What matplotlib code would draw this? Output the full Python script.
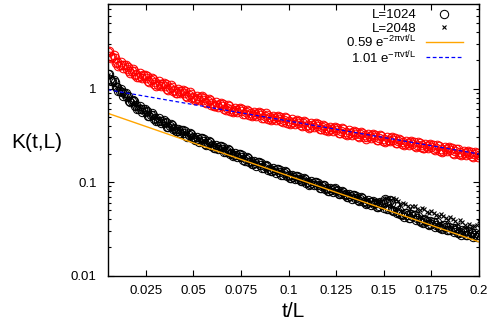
import numpy as np
import matplotlib
matplotlib.use("Agg")
import matplotlib.pyplot as plt
from matplotlib.ticker import FixedLocator, FixedFormatter, LogLocator, NullFormatter

plt.rcParams['font.family'] = ['Liberation Sans', 'DejaVu Sans']
plt.rcParams['mathtext.fontset'] = 'custom'
plt.rcParams['mathtext.rm'] = 'Liberation Sans'
plt.rcParams['mathtext.it'] = 'Liberation Sans'
plt.rcParams['mathtext.sf'] = 'Liberation Sans'

# ---------------- data ----------------
# red series (upper curve), sampled every 0.0025 from t/L = 0.005
red_vals = [2.46, 2.18, 1.93, 1.77, 1.63, 1.54, 1.44, 1.37, 1.29, 1.23,
            1.16, 1.12, 1.06, 1.02, 0.97, 0.935, 0.895, 0.86, 0.82, 0.795,
            0.76, 0.73, 0.70, 0.67, 0.645, 0.625, 0.60, 0.59, 0.57, 0.56,
            0.545, 0.535, 0.52, 0.51, 0.495, 0.487, 0.472, 0.465, 0.452, 0.443,
            0.43, 0.424, 0.412, 0.405, 0.394, 0.388, 0.378, 0.369, 0.360, 0.352,
            0.344, 0.337, 0.329, 0.323, 0.316, 0.309, 0.303, 0.297, 0.291, 0.285,
            0.280, 0.273, 0.268, 0.262, 0.258, 0.251, 0.247, 0.242, 0.236, 0.233,
            0.227, 0.223, 0.219, 0.214, 0.210, 0.206, 0.201, 0.198, 0.193]
# red series, samples at t/L = 0.00625, 0.00875, ...
red_vals_mid = [2.23, 2.13, 1.78, 1.78, 1.52, 1.55, 1.33, 1.38, 1.21, 1.25,
                1.08, 1.13, 1.00, 1.045, 0.905, 0.95, 0.84, 0.88, 0.767, 0.815,
                0.715, 0.75, 0.65, 0.69, 0.61, 0.643, 0.571, 0.603, 0.537, 0.58,
                0.518, 0.548, 0.489, 0.527, 0.471, 0.498, 0.445, 0.481, 0.429, 0.454,
                0.406, 0.439, 0.392, 0.415, 0.371, 0.402, 0.358, 0.379, 0.338, 0.365,
                0.327, 0.346, 0.310, 0.335, 0.300, 0.318, 0.285, 0.309, 0.276, 0.293,
                0.262, 0.284, 0.254, 0.270, 0.241, 0.261, 0.234, 0.249, 0.223, 0.241,
                0.216, 0.230, 0.206, 0.223, 0.200, 0.211, 0.190, 0.203]
# red series, samples at t/L = 0.005625, 0.006875, ... (every 0.00125)
red_vals_q = [2.53, 2.12, 2.27, 1.89, 1.76, 1.90, 1.67, 1.78, 1.71, 1.47,
              1.62, 1.39, 1.32, 1.46, 1.30, 1.40, 1.35, 1.17, 1.295, 1.12,
              1.07, 1.19, 1.06, 1.15, 1.11, 0.97, 1.08, 0.933, 0.894, 0.991,
              0.888, 0.968, 0.939, 0.817, 0.91, 0.789, 0.757, 0.841, 0.755, 0.823,
              0.798, 0.693, 0.773, 0.672, 0.644, 0.711, 0.637, 0.697, 0.678, 0.592,
              0.662, 0.576, 0.556, 0.622, 0.562, 0.615, 0.602, 0.529, 0.595, 0.522,
              0.505, 0.564, 0.51, 0.561, 0.549, 0.482, 0.541, 0.474, 0.458, 0.513,
              0.464, 0.509, 0.498, 0.439, 0.494, 0.432, 0.418, 0.467, 0.422, 0.463,
              0.454, 0.40, 0.45, 0.394, 0.381, 0.427, 0.386, 0.425, 0.416, 0.366,
              0.412, 0.361, 0.35, 0.39, 0.352, 0.388, 0.379, 0.333, 0.375, 0.329,
              0.318, 0.356, 0.322, 0.354, 0.347, 0.305, 0.343, 0.302, 0.292, 0.327,
              0.295, 0.326, 0.32, 0.281, 0.316, 0.278, 0.269, 0.301, 0.273, 0.301,
              0.295, 0.259, 0.291, 0.256, 0.248, 0.277, 0.251, 0.277, 0.271, 0.238,
              0.268, 0.236, 0.229, 0.255, 0.231, 0.254, 0.249, 0.22, 0.248, 0.217,
              0.21, 0.235, 0.213, 0.235, 0.231, 0.202, 0.228, 0.20, 0.194, 0.217,
              0.197, 0.216, 0.212, 0.187, 0.211, 0.184]

# L=1024 (black circles)
L1024_vals = [1.42, 1.20, 1.04, 0.91, 0.81, 0.73, 0.66, 0.605, 0.56, 0.52,
              0.485, 0.452, 0.423, 0.398, 0.375, 0.354, 0.335, 0.318, 0.302, 0.288,
              0.275, 0.262, 0.250, 0.238, 0.228, 0.217, 0.206, 0.196, 0.186, 0.176,
              0.168, 0.160, 0.152, 0.147, 0.139, 0.135, 0.128, 0.124, 0.118, 0.114,
              0.109, 0.106, 0.101, 0.098, 0.093, 0.090, 0.086, 0.083, 0.080, 0.077,
              0.074, 0.071, 0.068, 0.066, 0.063, 0.061, 0.058, 0.056, 0.053, 0.052,
              0.049, 0.048, 0.046, 0.044, 0.043, 0.041, 0.039, 0.038, 0.036, 0.035,
              0.034, 0.033, 0.031, 0.031, 0.029, 0.029, 0.028, 0.027, 0.027]
L1024_vals_mid = [1.25, 1.16, 0.934, 0.90, 0.73, 0.729, 0.607, 0.605, 0.513, 0.527,
                  0.449, 0.455, 0.390, 0.405, 0.350, 0.358, 0.310, 0.325, 0.283, 0.293,
                  0.255, 0.269, 0.234, 0.242, 0.211, 0.222, 0.193, 0.199, 0.172, 0.181,
                  0.157, 0.162, 0.142, 0.150, 0.1315, 0.137, 0.120, 0.127, 0.111, 0.116,
                  0.102, 0.109, 0.0955, 0.0993, 0.087, 0.0924, 0.0811, 0.0848, 0.0746, 0.0793,
                  0.0696, 0.0723, 0.0637, 0.0677, 0.0595, 0.0619, 0.0542, 0.058, 0.061, 0.060,
                  0.055, 0.0451, 0.0473, 0.0413, 0.0441, 0.0384, 0.0404, 0.0352, 0.0373, 0.0331,
                  0.0352, 0.0304, 0.0326, 0.0288, 0.0305, 0.0271, 0.0289, 0.0259]
L1024_vals_q = [1.43, 1.19, 1.23, 1.04, 0.947, 0.98, 0.841, 0.885, 0.83, 0.713,
                0.755, 0.65, 0.607, 0.644, 0.564, 0.605, 0.578, 0.504, 0.542, 0.474,
                0.448, 0.478, 0.423, 0.456, 0.438, 0.384, 0.416, 0.366, 0.348, 0.373,
                0.332, 0.36, 0.348, 0.306, 0.333, 0.294, 0.281, 0.303, 0.271, 0.295,
                0.286, 0.252, 0.275, 0.243, 0.232, 0.251, 0.224, 0.244, 0.236, 0.209,
                0.227, 0.201, 0.191, 0.206, 0.184, 0.20, 0.193, 0.17, 0.184, 0.163,
                0.156, 0.168, 0.15, 0.163, 0.159, 0.141, 0.154, 0.135, 0.13, 0.141,
                0.126, 0.138, 0.133, 0.119, 0.13, 0.115, 0.11, 0.12, 0.107, 0.117,
                0.113, 0.102, 0.111, 0.098, 0.094, 0.103, 0.092, 0.10, 0.097, 0.086,
                0.094, 0.084, 0.08, 0.087, 0.078, 0.086, 0.083, 0.074, 0.081, 0.072,
                0.069, 0.075, 0.0665, 0.073, 0.071, 0.063, 0.069, 0.0615, 0.0588, 0.064,
                0.057, 0.0625, 0.060, 0.0537, 0.062, 0.058, 0.066, 0.052, 0.064, 0.050,
                0.058, 0.047, 0.050, 0.0446, 0.0428, 0.0463, 0.0417, 0.0457, 0.0446, 0.0394,
                0.0429, 0.0379, 0.0366, 0.0396, 0.0356, 0.0387, 0.0377, 0.0333, 0.0370, 0.0327,
                0.0319, 0.0344, 0.0309, 0.0334, 0.0326, 0.0295, 0.0323, 0.0283, 0.0273, 0.0302,
                0.0275, 0.0302, 0.0291, 0.0259, 0.0286, 0.0259]

# L=2048 (black crosses), t/L = 0.00625, 0.00875, ...
L2048_vals = [1.34, 1.09, 1.00, 0.835, 0.79, 0.675, 0.655, 0.563, 0.556, 0.485,
              0.482, 0.424, 0.422, 0.374, 0.375, 0.335, 0.336, 0.301, 0.304, 0.273,
              0.276, 0.248, 0.251, 0.226, 0.229, 0.205, 0.207, 0.186, 0.187, 0.167,
              0.170, 0.152, 0.153, 0.139, 0.141, 0.127, 0.130, 0.117, 0.121, 0.108,
              0.111, 0.100, 0.103, 0.093, 0.095, 0.085, 0.088, 0.080, 0.081, 0.074,
              0.075, 0.068, 0.070, 0.063, 0.065, 0.059, 0.063, 0.061, 0.067, 0.064,
              0.066, 0.058, 0.058, 0.052, 0.055, 0.050, 0.052, 0.047, 0.047, 0.043,
              0.043, 0.039, 0.040, 0.036, 0.037, 0.033, 0.034, 0.035]
# L=2048, t/L = 0.005, 0.0075, ...
L2048_vals_b = [1.40, 1.15, 1.02, 0.88, 0.80, 0.72, 0.67, 0.60, 0.565, 0.51,
                0.49, 0.445, 0.43, 0.39, 0.38, 0.348, 0.34, 0.312, 0.308, 0.282,
                0.279, 0.257, 0.255, 0.234, 0.232, 0.211, 0.21, 0.192, 0.191, 0.173,
                0.172, 0.157, 0.156, 0.143, 0.144, 0.131, 0.132, 0.12, 0.122, 0.111,
                0.113, 0.102, 0.105, 0.095, 0.097, 0.087, 0.09, 0.081, 0.083, 0.0755,
                0.077, 0.0695, 0.072, 0.065, 0.066, 0.060, 0.064, 0.064, 0.068, 0.068,
                0.067, 0.063, 0.060, 0.055, 0.056, 0.051, 0.053, 0.048, 0.049, 0.045,
                0.046, 0.041, 0.042, 0.038, 0.039, 0.035, 0.036, 0.034, 0.038]

t_main = np.linspace(0.005, 0.2, len(red_vals))
t_mid = np.linspace(0.00625, 0.19875, len(red_vals_mid))
t_q = np.linspace(0.005625, 0.199375, len(red_vals_q))
t_1024 = np.linspace(0.005, 0.2, len(L1024_vals))
t_1024_mid = np.linspace(0.00625, 0.19875, len(L1024_vals_mid))
t_1024_q = np.linspace(0.005625, 0.199375, len(L1024_vals_q))
t_2048 = np.linspace(0.00625, 0.19875, len(L2048_vals))
t_2048_b = np.linspace(0.005, 0.2, len(L2048_vals_b))

fit_t = [0.005, 0.2]
fit_2pi = [0.544, 0.0230]   # 0.59 e^{-2 pi v t/L}
fit_pi = [0.970, 0.1996]    # 1.01 e^{-pi v t/L}

xticks = [0.025, 0.05, 0.075, 0.1, 0.125, 0.15, 0.175, 0.2]
xticklabels = ['0.025', '0.05', '0.075', '0.1', '0.125', '0.15', '0.175', '0.2']
yticks = [0.01, 0.1, 1]
yticklabels = ['0.01', '0.1', '1']

labels = ['L=1024', 'L=2048', r'$\mathrm{0.59\ e^{-2\pi vt/L}}$', r'$\mathrm{1.01\ e^{-\pi vt/L}}$']

# ---------------- figure ----------------
fig = plt.figure(figsize=(4.88, 3.27), dpi=100)
ax = fig.add_axes([0.2207, 0.157, 0.7609, 0.8308])

red_style = dict(linestyle='none', marker='o', markersize=6.2,
                 markerfacecolor='none', markeredgecolor='#ff0000', markeredgewidth=0.75)
blk_style = dict(linestyle='none', marker='o', markersize=6.0,
                 markerfacecolor='none', markeredgecolor='black', markeredgewidth=0.75)
crs_style = dict(linestyle='none', marker='x', markersize=3.5,
                 color='black', markeredgewidth=0.8)

ax.plot(t_main, red_vals, **red_style)
ax.plot(t_mid, red_vals_mid, **red_style)
ax.plot(t_q, red_vals_q, **red_style)
ax.plot(t_1024, L1024_vals, **blk_style)
ax.plot(t_1024_mid, L1024_vals_mid, **blk_style)
ax.plot(t_1024_q, L1024_vals_q, **blk_style)
ax.plot(t_2048, L2048_vals, **crs_style)
ax.plot(t_2048_b, L2048_vals_b, **crs_style)
orange_style = dict(color='#ffa500', linewidth=1.0)
blue_style = dict(color='#0000ff', linewidth=0.9, linestyle=(0, (3, 2)))
ax.plot(fit_t, fit_2pi, **orange_style)
ax.plot(fit_t, fit_pi, **blue_style)

ax.set_yscale('log')
ax.set_xlim(0.005, 0.2)
ax.set_ylim(0.01, 8)

ax.xaxis.set_major_locator(FixedLocator(xticks))
ax.xaxis.set_major_formatter(FixedFormatter(xticklabels))
ax.yaxis.set_major_locator(FixedLocator(yticks))
ax.yaxis.set_major_formatter(FixedFormatter(yticklabels))
ax.yaxis.set_minor_locator(LogLocator(base=10, subs=np.arange(2, 10)))
ax.yaxis.set_minor_formatter(NullFormatter())

ax.tick_params(which='both', direction='in', top=True, right=True,
               labelsize=9.5, width=0.8)
ax.tick_params(which='major', length=4.5)
ax.tick_params(which='minor', length=2.5)
ax.tick_params(axis='x', pad=7)
ax.tick_params(axis='y', pad=8)
for s in ax.spines.values():
    s.set_linewidth(1.0)

ax.set_xlabel('t/L', fontsize=15, labelpad=3)
ax.set_ylabel('K(t,L)', fontsize=15, rotation=0, ha='center', va='center')
ax.yaxis.set_label_coords(-0.19, 0.49)

# ---------------- key (gnuplot style: text right-aligned, sample to the right) ----
tr = ax.transAxes
text_x = 0.832
text_y = [0.9480, 0.8985, 0.8400, 0.7810]
samp_y = [0.9630, 0.9150, 0.8595, 0.8040]
samp_x0, samp_xc, samp_x1 = 0.8573, 0.9057, 0.9561
for lab, ty in zip(labels, text_y):
    ax.text(text_x, ty, lab, transform=tr, ha='right', va='baseline', fontsize=9.5)
ax.plot([samp_xc], [samp_y[0]], transform=tr, clip_on=False, **blk_style)
ax.plot([samp_xc], [samp_y[1]], transform=tr, clip_on=False, **crs_style)
ax.plot([samp_x0, samp_x1], [samp_y[2]] * 2, transform=tr, clip_on=False, **orange_style)
ax.plot([samp_x0, samp_x1], [samp_y[3]] * 2, transform=tr, clip_on=False, **blue_style)

fig.savefig('out.png', dpi=100)
